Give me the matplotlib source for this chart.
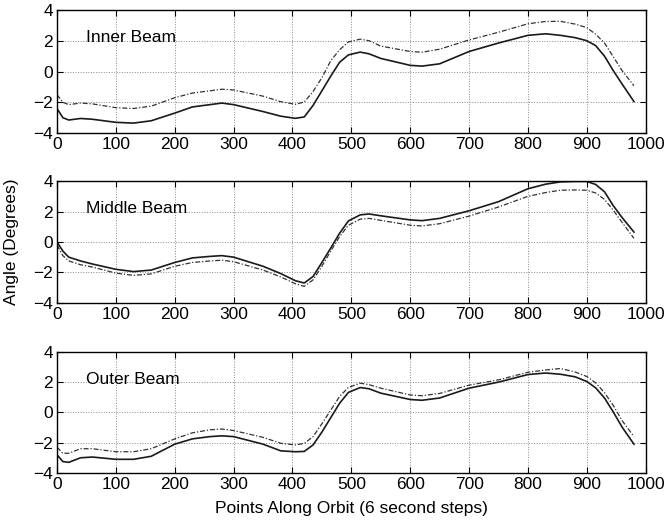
import matplotlib
matplotlib.use("Agg")
import matplotlib.pyplot as plt

plt.rcParams['font.family'] = ['Liberation Sans', 'DejaVu Sans']

x = [0, 10, 20, 40, 60, 100, 130, 160, 200, 230, 260, 280, 300, 350, 380, 405, 420, 435, 450, 465,
     480, 495, 515, 530, 550, 600, 620, 650, 700, 750, 800, 830, 855, 880, 900, 915, 930, 945, 960, 980]

inner_solid = [-2.4, -3.0, -3.15, -3.05, -3.1, -3.3, -3.35, -3.2, -2.7, -2.3, -2.15, -2.05, -2.15, -2.6,
               -2.9, -3.04, -2.95, -2.2, -1.25, -0.3, 0.6, 1.08, 1.26, 1.15, 0.85, 0.4, 0.35, 0.5,
               1.3, 1.85, 2.35, 2.45, 2.35, 2.2, 2.0, 1.68, 1.0, 0.05, -0.82, -1.95]
inner_dash = [-1.5, -2.0, -2.15, -2.05, -2.1, -2.35, -2.4, -2.25, -1.7, -1.4, -1.25, -1.15, -1.2, -1.6,
              -1.96, -2.13, -1.98, -1.3, -0.4, 0.7, 1.41, 1.92, 2.1, 2.0, 1.65, 1.3, 1.25, 1.45,
              2.05, 2.55, 3.1, 3.25, 3.26, 3.08, 2.85, 2.42, 1.85, 0.95, 0.05, -0.92]
middle_solid = [0.0, -0.6, -1.0, -1.25, -1.45, -1.8, -1.95, -1.85, -1.35, -1.05, -0.95, -0.9, -1.0, -1.6,
                -2.08, -2.55, -2.7, -2.27, -1.35, -0.4, 0.57, 1.38, 1.78, 1.84, 1.72, 1.45, 1.4, 1.55,
                2.05, 2.65, 3.5, 3.8, 3.95, 3.98, 3.98, 3.78, 3.3, 2.38, 1.6, 0.65]
middle_dash = [-0.2, -0.9, -1.25, -1.5, -1.65, -2.05, -2.2, -2.1, -1.6, -1.35, -1.25, -1.2, -1.3, -1.85,
               -2.3, -2.75, -2.92, -2.49, -1.6, -0.6, 0.35, 1.1, 1.5, 1.55, 1.42, 1.1, 1.05, 1.2,
               1.7, 2.3, 3.0, 3.25, 3.4, 3.42, 3.4, 3.22, 2.8, 2.08, 1.28, 0.24]
outer_solid = [-2.8, -3.25, -3.3, -3.0, -2.95, -3.1, -3.1, -2.9, -2.1, -1.75, -1.6, -1.55, -1.6, -2.1,
               -2.54, -2.6, -2.58, -2.15, -1.3, -0.35, 0.6, 1.32, 1.64, 1.56, 1.27, 0.85, 0.8, 0.95,
               1.6, 2.0, 2.5, 2.6, 2.52, 2.35, 2.04, 1.62, 0.95, 0.02, -0.98, -2.1]
outer_dash = [-2.3, -2.7, -2.7, -2.4, -2.4, -2.6, -2.6, -2.4, -1.75, -1.35, -1.15, -1.1, -1.2, -1.65,
              -2.04, -2.15, -2.05, -1.6, -0.75, 0.15, 1.05, 1.65, 1.93, 1.83, 1.6, 1.15, 1.1, 1.25,
              1.8, 2.15, 2.65, 2.8, 2.9, 2.67, 2.37, 1.95, 1.3, 0.45, -0.55, -1.6]

titles = ["Inner Beam", "Middle Beam", "Outer Beam"]
series = [(inner_solid, inner_dash), (middle_solid, middle_dash), (outer_solid, outer_dash)]
xticks = [0, 100, 200, 300, 400, 500, 600, 700, 800, 900, 1000]
yticks = [-4, -2, 0, 2, 4]

fig = plt.figure(figsize=(6.65, 5.22), dpi=100)
boxes = [(0.0857, 0.745, 0.8853, 0.236), (0.0857, 0.420, 0.8853, 0.233), (0.0857, 0.094, 0.8853, 0.232)]
for box, title, (s, d) in zip(boxes, titles, series):
    ax = fig.add_axes(box)
    ax.plot(x, s, color='#1a1a1a', lw=1.2, ls='-')
    ax.plot(x, d, color='#333333', lw=0.9, ls='-.', dashes=(4, 1.5, 1, 1.5))
    ax.set_xlim(0, 1000)
    ax.set_ylim(-4, 4)
    ax.set_xticks(xticks)
    ax.set_yticks(yticks)
    ax.set_yticklabels(['\u22124', '\u22122', '0', '2', '4'])
    ax.grid(True, ls=':', color='#888888', lw=0.7)
    ax.tick_params(direction='in', top=True, right=True, labelsize=12.5, length=4, pad=3)
    for sp in ax.spines.values():
        sp.set_linewidth(1.0)
    ax.text(50, 2.2, title, fontsize=12.5, va='center', ha='left')

fig.text(0.018, 0.536, "Angle (Degrees)", rotation=90, fontsize=12.5, va='center', ha='center')
fig.text(0.528, 0.025, "Points Along Orbit (6 second steps)", fontsize=12.5, va='center', ha='center')
fig.savefig("out.png", dpi=100)
